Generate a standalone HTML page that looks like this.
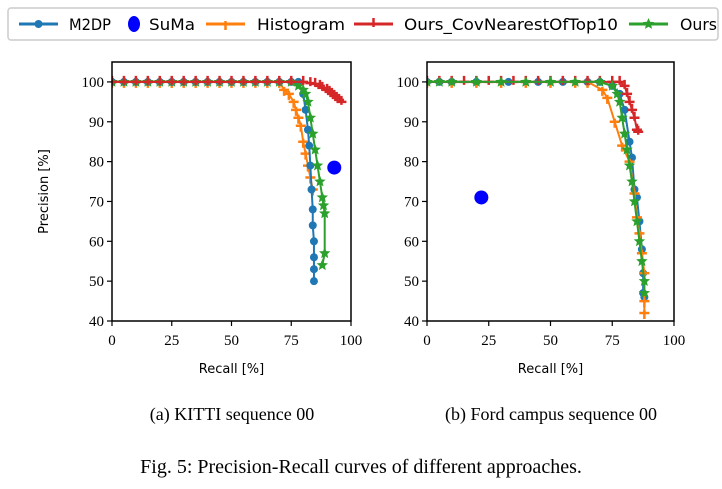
<!DOCTYPE html>
<html><head><meta charset="utf-8"><style>
body{margin:0;background:#fff;width:722px;height:489px;overflow:hidden}
svg{display:block}
</style></head><body>
<svg id="chart" width="722" height="489" xmlns="http://www.w3.org/2000/svg">
<rect x="8" y="8" width="710" height="32" rx="3" fill="#fff" stroke="#ccc" stroke-width="1.5"/>
<g id="legend" font-family="DejaVu Sans, sans-serif" font-size="16"></g>
<g id="plots"></g>
<text x="232" y="420" text-anchor="middle" font-family="Liberation Serif, serif" font-size="18">(a) KITTI sequence 00</text>
<text x="551" y="420" text-anchor="middle" font-family="Liberation Serif, serif" font-size="18">(b) Ford campus sequence 00</text>
<text x="361" y="473" text-anchor="middle" font-family="Liberation Serif, serif" font-size="20">Fig. 5: Precision-Recall curves of different approaches.</text>
</svg>
<script>
const xTicks=[0,25,50,75,100];
const yTicks=[40,50,60,70,80,90,100];
const flatR=[0,5,10,15,20,25,30,35,40,45,50,55,60,65,70];
// KITTI
const kM2dpR=[...flatR,75,78,80,81,82,82.5,83,83.5,84,84,84.5,84.5,84.5,84.5];
const kM2dpP=[...flatR.map(()=>100),100,100,97,93,88,84,79,73,68,64,60,56,53,50];
const kHistR=[...flatR,72,74,76,77,78,79,80,81,82,83,84];
const kHistP=[...flatR.map(()=>100),98,97,95,93,91,89,85,82,79,76,73];
const kCovR=[...flatR,75,80,83,85,87,88,90,91,92,93,94,95,96];
const kCovP=[...flatR.map(()=>100),100,100,99.7,99.5,99,98.5,98,97.5,97,96.5,96,95.5,95];
const kOursR=[...flatR,75,78,80,81,82,83,84,85,86,87,88,88.5,89,89,88];
const kOursP=[...flatR.map(()=>100),100,99,98,97,95,91,87,83,79,75,71,69,67,57,54];
const kSumaR=[93],kSumaP=[78.5];
// Ford
const fM2dpR=[0,5,10,20,33,45,55,65,70,75,78,80,82,83,84,85,86,87,87.5,87.5,88];
const fM2dpP=[100,100,100,100,100,100,100,100,100,99,97,93,85,81,73,71,65,58,52,47,46];
const fHistR=[0,10,20,30,40,50,60,65,71,73,76,79,82,84,85,86,87,88,88,88];
const fHistP=[100,100,100,100,100,100,100,100,98,96,90,84,80,72,66,62,57,52,45,42];
const fCovR=[0,5,10,15,20,25,30,35,40,45,50,55,60,65,70,75,78,80,81,82,83,84,85,85.5];
const fCovP=[100,100,100,100,100,100,100,100,100,100,100,100,100,100,100,100,100,99,97,95,93,91,88,87.5];
const fOursR=[0,5,10,20,30,40,50,60,70,75,77,78,79,80,81,82,83,84,85,86,87,88,88];
const fOursP=[100,100,100,100,100,100,100,100,100,99,97,95,91,87,83,79,75,70,65,60,55,50,47];
const fSumaR=[22],fSumaP=[71];

const NS="http://www.w3.org/2000/svg";
const C={m2dp:"#1f77b4",hist:"#ff7f0e",cov:"#d62728",ours:"#2ca02c",suma:"#0000ff"};
function el(t,a,p){const e=document.createElementNS(NS,t);for(const k in a)e.setAttribute(k,a[k]);p.appendChild(e);return e;}
function star(cx,cy,r){let s="";for(let i=0;i<10;i++){const a=-Math.PI/2+i*Math.PI/5,rr=i%2?r*0.45:r;s+=(cx+rr*Math.cos(a)).toFixed(1)+","+(cy+rr*Math.sin(a)).toFixed(1)+" ";}return s;}
function marker(g,type,x,y,col){
  if(type==="circle"){return el("circle",{cx:x,cy:y,r:4,fill:col},g);}
  if(type==="tri"){return el("path",{d:`M${x-5},${y}L${x+5},${y}M${x},${y}L${x},${y+6}M${x},${y}L${x},${y-3}`,stroke:col,"stroke-width":2.5,fill:"none"},g);}
  if(type==="tri2"){return el("path",{d:`M${x-5},${y}L${x+5},${y}M${x},${y}L${x},${y-6}M${x},${y}L${x},${y+3}`,stroke:col,"stroke-width":2.5,fill:"none"},g);}
  return el("polygon",{points:star(x,y,6),fill:col},g);
}
function plot(name,L,R,T,B,showYLabel,series,suma){
  const root=document.getElementById("plots");
  const g=el("g",{},root);
  
  
  const sx=v=>L+(R-L)*v/100, sy=v=>B-(B-T)*(v-40)/(105-40);
  const clip=name+"-clip";
  const cp=el("clipPath",{id:clip},g);el("rect",{x:L,y:T,width:R-L,height:B-T},cp);
  const dg=el("g",{"clip-path":`url(#${clip})`},g);
  series.forEach(s=>{
    const sg=el("g",{},dg);
    
    
    el("polyline",{points:s.r.map((v,i)=>sx(v)+","+sy(s.p[i])).join(" "),fill:"none",stroke:C[s.key],"stroke-width":2},sg);
    s.r.forEach((v,i)=>marker(sg,s.m,sx(v),sy(s.p[i]),C[s.key]));
  });
  const sc=el("circle",{cx:sx(suma[0][0]),cy:sy(suma[1][0]),r:7,fill:C.suma},dg);
  
  
  const ax=el("rect",{x:L,y:T,width:R-L,height:B-T,fill:"none",stroke:"#000","stroke-width":1.5},g);
  
  
  xTicks.forEach(t=>{
    el("line",{x1:sx(t),x2:sx(t),y1:B,y2:B+5,stroke:"#000","stroke-width":1.2},g);
    const tx=el("text",{x:sx(t),y:B+24,"text-anchor":"middle","font-family":"Liberation Serif, serif","font-size":15},g);
    tx.textContent=t;
    
    
  });
  yTicks.forEach(t=>{
    el("line",{x1:L,x2:L-5,y1:sy(t),y2:sy(t),stroke:"#000","stroke-width":1.2},g);
    const tx=el("text",{x:L-8,y:sy(t)+5,"text-anchor":"end","font-family":"Liberation Serif, serif","font-size":15},g);
    tx.textContent=t;
    
    
  });
  const xl=el("text",{x:(L+R)/2,y:B+52,"text-anchor":"middle","font-family":"DejaVu Sans, sans-serif","font-size":13},g);
  xl.textContent="Recall [%]";
  
  
  if(showYLabel){
    const yl=el("text",{x:0,y:0,transform:`translate(48,${(T+B)/2}) rotate(-90)`,"text-anchor":"middle","font-family":"DejaVu Sans, sans-serif","font-size":13},g);
    yl.textContent="Precision [%]";
    
    
  }
}
plot("kitti-plot",112,351,62,321,true,[
 {key:"hist",m:"tri",r:kHistR,p:kHistP},
 {key:"m2dp",m:"circle",r:kM2dpR,p:kM2dpP},
 {key:"ours",m:"star",r:kOursR,p:kOursP},
 {key:"cov",m:"tri2",r:kCovR,p:kCovP}],[kSumaR,kSumaP]);
plot("ford-plot",427,674,62,321,false,[
 {key:"m2dp",m:"circle",r:fM2dpR,p:fM2dpP},
 {key:"hist",m:"tri",r:fHistR,p:fHistP},
 {key:"cov",m:"tri2",r:fCovR,p:fCovP},
 {key:"ours",m:"star",r:fOursR,p:fOursP}],[fSumaR,fSumaP]);

// legend
const lg=document.getElementById("legend");
const items=[["M2DP","m2dp","circle",19,69,42],["SuMa","suma","big",0,149,46],["Histogram","hist","tri",206,257,88],["Ours_CovNearestOfTop10","cov","tri2",354,404,214],["Ours","ours","star",629,680,37]];
items.forEach(it=>{
  const g=el("g",{},lg);
  
  
  if(it[2]==="big"){el("ellipse",{cx:134,cy:24,rx:6,ry:8,fill:C.suma},g);}
  else{el("line",{x1:it[3],x2:it[3]+39,y1:24,y2:24,stroke:C[it[1]],"stroke-width":3},g);marker(g,it[2],it[3]+19.5,24,C[it[1]]);}
  const t=el("text",{x:it[4],y:30,textLength:it[5],lengthAdjust:"spacingAndGlyphs"},g);
  t.textContent=it[0];
});
</script>
</body></html>
